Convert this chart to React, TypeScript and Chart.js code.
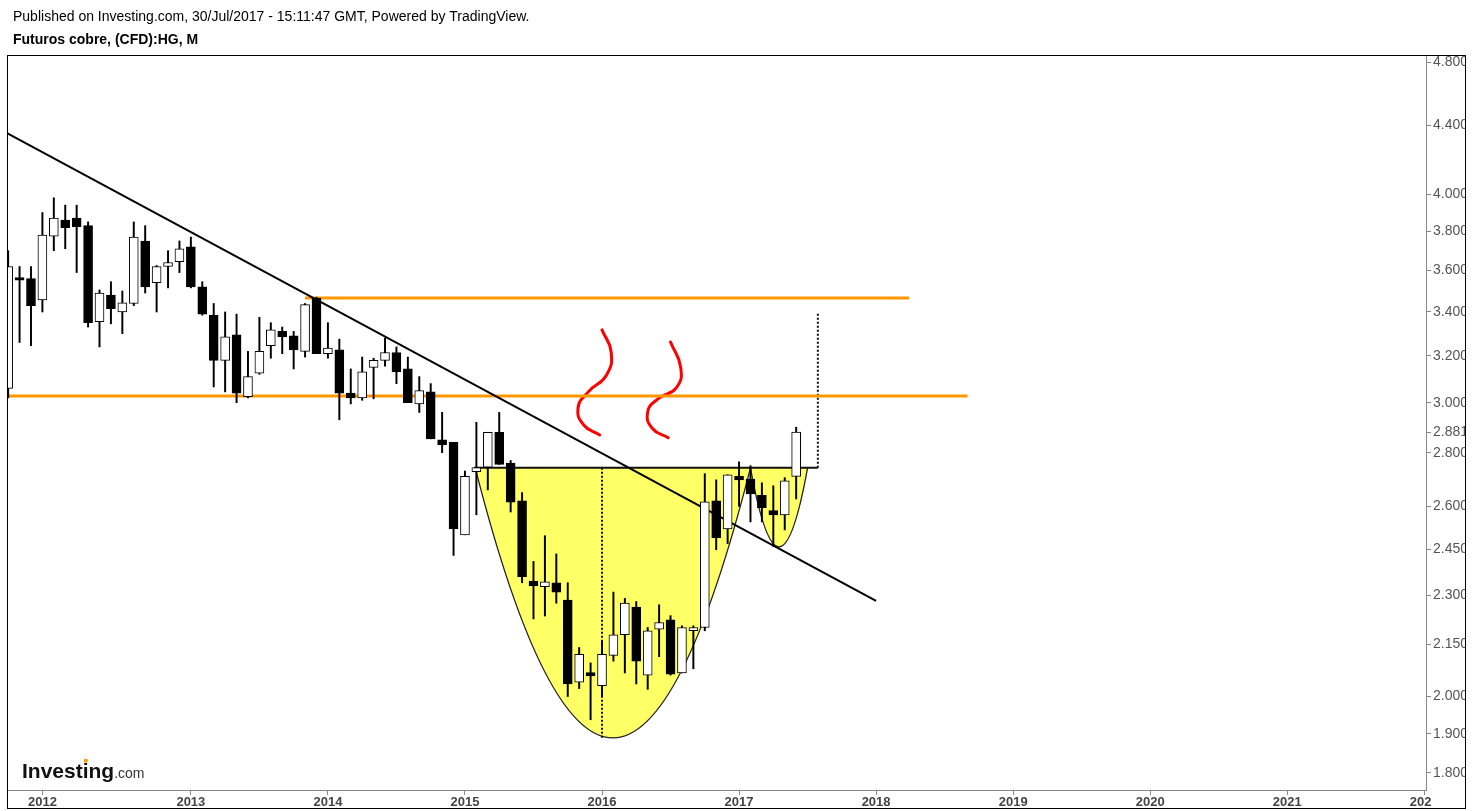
import { useEffect, useRef } from "react";
import { Chart, registerables } from "chart.js";

Chart.register(...registerables);

// ---- monthly candles (bar index 0 = first visible bar) ----
const opens = [
  3.06, 3.565, 3.56, 3.457, 3.775, 3.86, 3.87, 3.83, 3.355, 3.48,
  3.40, 3.44, 3.75, 3.54, 3.62, 3.645, 3.72, 3.52, 3.385, 3.18,
  3.294, 3.025, 3.125, 3.245, 3.31, 3.29, 3.22, 3.466, 3.21, 3.227,
  3.04, 3.02, 3.15, 3.18, 3.215, 3.143, 2.995, 3.045, 2.85, 2.84,
  2.50, 2.728, 2.745, 2.88, 2.76, 2.62, 2.345, 2.327, 2.34, 2.285,
  2.04, 2.067, 2.03, 2.117, 2.178, 2.263, 2.06, 2.195, 2.223, 2.066,
  2.19, 2.20, 2.62, 2.52, 2.71, 2.70, 2.64, 2.585, 2.57, 2.71,
];
const highs = [
  3.70, 3.62, 3.62, 3.90, 3.98, 3.94, 3.94, 3.85, 3.505, 3.545,
  3.50, 3.85, 3.83, 3.625, 3.70, 3.75, 3.77, 3.545, 3.44, 3.40,
  3.39, 3.22, 3.375, 3.35, 3.33, 3.31, 3.44, 3.47, 3.35, 3.275,
  3.143, 3.195, 3.19, 3.28, 3.24, 3.195, 3.11, 3.08, 2.96, 2.84,
  2.73, 2.92, 2.88, 2.96, 2.77, 2.65, 2.41, 2.497, 2.435, 2.34,
  2.14, 2.095, 2.16, 2.31, 2.29, 2.28, 2.20, 2.27, 2.236, 2.205,
  2.205, 2.72, 2.697, 2.716, 2.765, 2.75, 2.686, 2.675, 2.705, 2.90,
];
const lows = [
  3.02, 3.26, 3.245, 3.40, 3.70, 3.71, 3.59, 3.33, 3.24, 3.345,
  3.30, 3.43, 3.49, 3.40, 3.515, 3.59, 3.515, 3.385, 3.066, 3.045,
  3.00, 3.02, 3.12, 3.19, 3.21, 3.143, 3.195, 3.21, 3.19, 2.93,
  2.995, 3.01, 3.016, 3.155, 3.08, 3.00, 2.96, 2.854, 2.80, 2.43,
  2.50, 2.57, 2.66, 2.755, 2.58, 2.34, 2.226, 2.235, 2.275, 2.00,
  2.022, 1.937, 2.00, 2.10, 2.066, 2.035, 2.02, 2.113, 2.06, 2.066,
  2.078, 2.19, 2.449, 2.47, 2.60, 2.545, 2.545, 2.46, 2.517, 2.627,
];
const closes = [
  3.62, 3.553, 3.43, 3.78, 3.87, 3.82, 3.825, 3.35, 3.49, 3.415,
  3.443, 3.77, 3.52, 3.62, 3.64, 3.71, 3.52, 3.39, 3.18, 3.285,
  3.04, 3.11, 3.22, 3.317, 3.285, 3.227, 3.435, 3.21, 3.235, 3.04,
  3.02, 3.13, 3.18, 3.215, 3.13, 3.00, 3.05, 2.854, 2.83, 2.52,
  2.71, 2.743, 2.88, 2.755, 2.615, 2.36, 2.33, 2.343, 2.31, 2.035,
  2.12, 2.058, 2.12, 2.178, 2.275, 2.10, 2.19, 2.215, 2.063, 2.20,
  2.20, 2.616, 2.49, 2.716, 2.697, 2.645, 2.595, 2.57, 2.693, 2.881,
];

// ---- axes ----
const yearLabels = ["2012", "2013", "2014", "2015", "2016", "2017", "2018", "2019", "2020", "2021", "2022"];
const yearBars = [3, 16, 28, 40, 52, 64, 76, 88, 100, 112, 124];
const priceTicks = [1.8, 1.9, 2.0, 2.15, 2.3, 2.45, 2.6, 2.8, 2.881, 3.0, 3.2, 3.4, 3.6, 3.8, 4.0, 4.4, 4.8];

// ---- drawings (bar index, price) ----
const trendX = [-0.1, 76.0];
const trendY = [4.352, 2.282];
const resistX = [26.0, 78.9];
const resistY = [3.466, 3.466];
const supportX = [-0.1, 84.0];
const supportY = [3.028, 3.028];
const necklineX = [40.8, 70.9];
const necklineY = [2.742, 2.742];
const dropAX = [52.0, 52.0];
const dropAY = [2.742, 1.889];
const dropBX = [70.9, 70.9];
const dropBY = [2.742, 3.395];
const cupLeft = [40.9, 65.0];
const cupRight = [65.0, 70.0];
const cupRim = [2.742, 2.742];
const cupBottom = [1.889, 2.459];
const squiggle1X = [52.0, 52.8, 52.4, 50.8, 49.9, 50.4, 51.8];
const squiggle1Y = [3.317, 3.217, 3.117, 3.045, 2.978, 2.909, 2.869];
const squiggle2X = [58.0, 58.9, 58.5, 56.9, 56.0, 56.4, 57.8];
const squiggle2Y = [3.262, 3.147, 3.062, 3.016, 2.962, 2.896, 2.858];

const FONT = "'Liberation Sans', Arial, Helvetica, sans-serif";

function pts(xs: number[], ys: number[]) {
  return xs.map((x, i) => ({ x, y: ys[i] }));
}

function lineDs(xs: number[], ys: number[], color: string, width: number, extra: any = {}) {
  return {
    type: "line" as const,
    data: pts(xs, ys),
    borderColor: color,
    borderWidth: width,
    pointRadius: 0,
    fill: false,
    tension: 0,
    clip: 0,
    order: 3,
    ...extra,
  };
}

const decorPlugin = {
  id: "decor",
  beforeDraw(chart: any) {
    const ctx = chart.ctx;
    ctx.save();
    ctx.fillStyle = "#ffffff";
    ctx.fillRect(0, 0, chart.width, chart.height);
    ctx.fillStyle = "#000";
    ctx.textBaseline = "middle";
    ctx.font = `14px ${FONT}`;
    ctx.fillText("Published on Investing.com, 30/Jul/2017 - 15:11:47 GMT, Powered by TradingView.", 13, 17);
    ctx.font = `bold 14px ${FONT}`;
    ctx.fillText("Futuros cobre, (CFD):HG, M", 13, 40);
    ctx.restore();
  },
  beforeDatasetsDraw(chart: any) {
    const ctx = chart.ctx;
    const xs = chart.scales.x;
    const ys = chart.scales.y;
    const a = chart.chartArea;
    ctx.save();
    ctx.beginPath();
    ctx.rect(a.left, a.top, a.right - a.left, a.bottom - a.top);
    ctx.clip();
    for (let k = 0; k < cupLeft.length; k++) {
      const xl = xs.getPixelForValue(cupLeft[k]);
      const xr = xs.getPixelForValue(cupRight[k]);
      const yr = ys.getPixelForValue(cupRim[k]);
      const yb = ys.getPixelForValue(cupBottom[k]);
      const cx = (xl + xr) / 2;
      const cy = 2 * yb - yr;
      ctx.beginPath();
      ctx.moveTo(xl, yr);
      ctx.quadraticCurveTo(cx, cy, xr, yr);
      ctx.closePath();
      ctx.fillStyle = "#FFFF66";
      ctx.fill();
      ctx.beginPath();
      ctx.moveTo(xl, yr);
      ctx.quadraticCurveTo(cx, cy, xr, yr);
      ctx.strokeStyle = "#222";
      ctx.lineWidth = 1.3;
      ctx.stroke();
    }
    ctx.restore();
  },
  afterDraw(chart: any) {
    const ctx = chart.ctx;
    const a = chart.chartArea;
    ctx.save();
    // clip price labels at the frame and time labels at the price axis
    ctx.fillStyle = "#fff";
    ctx.fillRect(1466, 0, chart.width - 1466, chart.height);
    ctx.fillRect(a.right + 6, a.bottom + 1, 1466 - a.right - 6, chart.height - a.bottom - 1);
    // frame
    ctx.strokeStyle = "#000";
    ctx.lineWidth = 1;
    ctx.strokeRect(7.5, 55.5, 1458, 753);
    // logo
    ctx.textBaseline = "alphabetic";
    ctx.fillStyle = "#111";
    ctx.font = `bold 21px ${FONT}`;
    const main = "Investing";
    ctx.fillText(main, 22, 778);
    const w = ctx.measureText(main).width;
    const wi = ctx.measureText("Invest").width;
    const wiw = ctx.measureText("i").width;
    ctx.fillStyle = "#FF9800";
    ctx.fillRect(22 + wi + wiw / 2 - 1.5, 759, 3.5, 3.5);
    ctx.fillStyle = "#333";
    ctx.font = `14px ${FONT}`;
    ctx.fillText(".com", 22 + w, 778);
    ctx.restore();
  },
};

export default function App() {
  const ref = useRef<HTMLCanvasElement | null>(null);

  useEffect(() => {
    if (!ref.current) return;
    Chart.defaults.font.family = FONT;
    const n = closes.length;
    const idx = Array.from({ length: n }, (_, i) => i);
    const bodyColors = idx.map((i) => (closes[i] >= opens[i] ? "#ffffff" : "#000000"));

    const chart = new Chart(ref.current, {
      type: "bar",
      data: {
        datasets: [
          lineDs(trendX, trendY, "#000", 2),
          lineDs(resistX, resistY, "#FF9800", 3),
          lineDs(supportX, supportY, "#FF9800", 3),
          lineDs(necklineX, necklineY, "#111", 2),
          lineDs(dropAX, dropAY, "#111", 2, { borderDash: [2, 2] }),
          lineDs(dropBX, dropBY, "#111", 2, { borderDash: [2, 2] }),
          lineDs(squiggle1X, squiggle1Y, "#FF0000", 3, { tension: 0.5, borderCapStyle: "round" }),
          lineDs(squiggle2X, squiggle2Y, "#FF0000", 3, { tension: 0.5, borderCapStyle: "round" }),
          {
            type: "bar" as const,
            data: idx.map((i) => ({ x: i, y: [opens[i], closes[i]] })) as any,
            backgroundColor: bodyColors,
            borderColor: "#000",
            borderWidth: 1,
            borderSkipped: false,
            barThickness: 9,
            grouped: false,
            clip: 0,
            order: 1,
          },
          {
            type: "bar" as const,
            data: idx.map((i) => ({ x: i, y: [lows[i], highs[i]] })) as any,
            backgroundColor: "#000",
            borderWidth: 0,
            barThickness: 1.3,
            grouped: false,
            clip: 0,
            order: 2,
          },
        ] as any,
      },
      options: {
        animation: false,
        responsive: false,
        devicePixelRatio: 1,
        layout: { padding: { left: 7, top: 55, right: 0, bottom: 0 } },
        plugins: { legend: { display: false }, tooltip: { enabled: false } },
        events: [],
        scales: {
          x: {
            type: "linear",
            min: -0.1,
            max: 124.15,
            offset: false,
            afterBuildTicks: (s: any) => {
              s.ticks = yearBars.map((v) => ({ value: v }));
            },
            afterFit: (s: any) => {
              s.height = 21;
            },
            ticks: {
              autoSkip: false,
              maxRotation: 0,
              padding: 0,
              color: "#444",
              font: { family: FONT, size: 13, weight: "bold" },
              callback: (_v: any, i: number) => yearLabels[i],
            },
            grid: { drawOnChartArea: false, offset: false, tickLength: 5, color: "#888" },
            border: { display: true, color: "#888", width: 1 },
          },
          y: {
            type: "logarithmic",
            position: "right",
            min: 1.758,
            max: 4.847,
            afterBuildTicks: (s: any) => {
              s.ticks = priceTicks.map((v) => ({ value: v }));
            },
            afterFit: (s: any) => {
              s.width = 46;
            },
            ticks: {
              autoSkip: false,
              padding: 2,
              color: "#555",
              font: { family: FONT, size: 14 },
              callback: (_v: any, i: number) => priceTicks[i].toFixed(3),
            },
            grid: { drawOnChartArea: false, tickLength: 5, color: "#888" },
            border: { display: true, color: "#888", width: 1 },
          },
        } as any,
      },
      plugins: [decorPlugin],
    });
    return () => chart.destroy();
  }, []);

  return (
    <div style={{ position: "absolute", left: 0, top: 0, width: 1472, height: 811, background: "#fff" }}>
      <canvas ref={ref} width={1472} height={811} style={{ width: 1472, height: 811, display: "block" }} />
    </div>
  );
}
